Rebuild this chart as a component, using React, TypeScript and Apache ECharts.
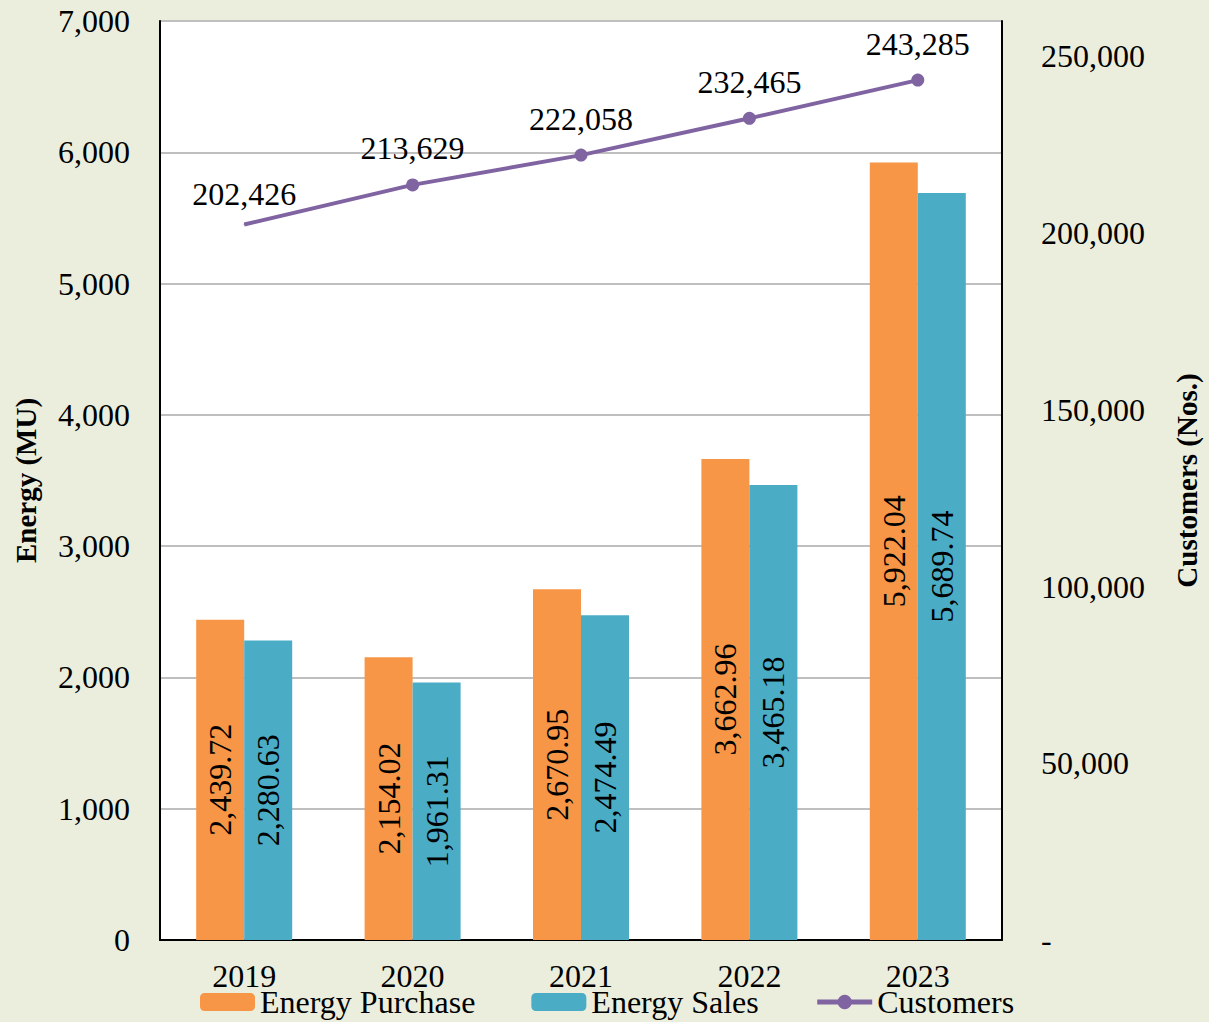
import React, { useEffect, useRef } from "react";
import * as echarts from "echarts";

const years = ["2019", "2020", "2021", "2022", "2023"];
const energyPurchase = [2439.72, 2154.02, 2670.95, 3662.96, 5922.04];
const energySales = [2280.63, 1961.31, 2474.49, 3465.18, 5689.74];
const customers = [202426, 213629, 222058, 232465, 243285];

const FONT = "Liberation Serif";
const fmt2 = (v: number) =>
  v.toLocaleString("en-US", { minimumFractionDigits: 2, maximumFractionDigits: 2 });
const fmt0 = (v: number) => v.toLocaleString("en-US");

export default function App() {
  const ref = useRef<HTMLDivElement>(null);
  useEffect(() => {
    if (!ref.current) return;
    const chart = echarts.init(ref.current, null, { renderer: "svg" });
    const barLabel = {
      show: true,
      position: "inside" as const,
      rotate: 90,
      color: "#000",
      fontFamily: FONT,
      fontSize: 32,
      formatter: (p: any) => fmt2(p.value),
    };
    chart.setOption({
      animation: false,
      backgroundColor: "#EBEEDD",
      textStyle: { fontFamily: FONT },
      grid: {
        left: 160,
        right: 205,
        top: 21,
        bottom: 82,
        show: true,
        backgroundColor: "#ffffff",
        borderWidth: 0,
      },
      legend: {
        left: 200,
        top: 986,
        itemWidth: 55,
        itemHeight: 18,
        itemGap: 56,
        padding: 0,
        textStyle: { fontFamily: FONT, fontSize: 32, color: "#000", lineHeight: 32 },
        data: [
          "Energy Purchase",
          "Energy Sales",
          { name: "Customers", lineStyle: { width: 5 } },
        ],
      },
      xAxis: {
        type: "category",
        data: years,
        axisLine: { show: true, lineStyle: { color: "#000", width: 2 } },
        axisTick: { show: false },
        axisLabel: { color: "#000", fontFamily: FONT, fontSize: 32, margin: 20 },
      },
      yAxis: [
        {
          type: "value",
          min: 0,
          max: 7000,
          interval: 1000,
          name: "Energy (MU)",
          nameLocation: "middle",
          nameRotate: 90,
          nameGap: 120,
          nameTextStyle: { fontFamily: FONT, fontSize: 29, fontWeight: "bold", color: "#000" },
          axisLine: { show: true, lineStyle: { color: "#000", width: 2 } },
          axisTick: { show: false },
          axisLabel: {
            color: "#000",
            fontFamily: FONT,
            fontSize: 32,
            margin: 30,
            formatter: (v: number) => fmt0(v),
          },
          splitLine: { show: true, lineStyle: { color: "#BFBFBF", width: 2 } },
        },
        {
          type: "value",
          min: 0,
          max: 260000,
          interval: 50000,
          name: "Customers (Nos.)",
          nameLocation: "middle",
          nameRotate: 90,
          nameGap: 170,
          nameTextStyle: { fontFamily: FONT, fontSize: 29, fontWeight: "bold", color: "#000" },
          axisLine: { show: true, lineStyle: { color: "#000", width: 2 } },
          axisTick: { show: false },
          splitLine: { show: false },
          axisLabel: {
            color: "#000",
            fontFamily: FONT,
            fontSize: 32,
            margin: 39,
            align: "left",
            showMaxLabel: false,
            formatter: (v: number) => (v === 0 ? "-" : fmt0(v)),
          },
        },
      ],
      series: [
        {
          name: "Energy Purchase",
          type: "bar",
          data: energyPurchase,
          barWidth: 48,
          barGap: "0%",
          itemStyle: { color: "#F79646" },
          label: barLabel,
        },
        {
          name: "Energy Sales",
          type: "bar",
          data: energySales,
          barWidth: 48,
          barGap: "0%",
          itemStyle: { color: "#4BACC6" },
          label: barLabel,
        },
        {
          name: "Customers",
          type: "line",
          yAxisIndex: 1,
          data: customers.map((v, i) => (i === 0 ? { value: v, symbolSize: 1 } : v)),
          symbol: "circle",
          symbolSize: 13,
          lineStyle: { color: "#8064A2", width: 4 },
          itemStyle: { color: "#8064A2" },
          label: {
            show: true,
            position: "top",
            distance: 14,
            color: "#000",
            fontFamily: FONT,
            fontSize: 32,
            formatter: (p: any) => fmt0(p.value),
          },
        },
      ],
    });
    return () => chart.dispose();
  }, []);
  return (
    <div
      ref={ref}
      style={{ position: "fixed", left: 0, top: 0, width: 1209, height: 1022 }}
    />
  );
}
